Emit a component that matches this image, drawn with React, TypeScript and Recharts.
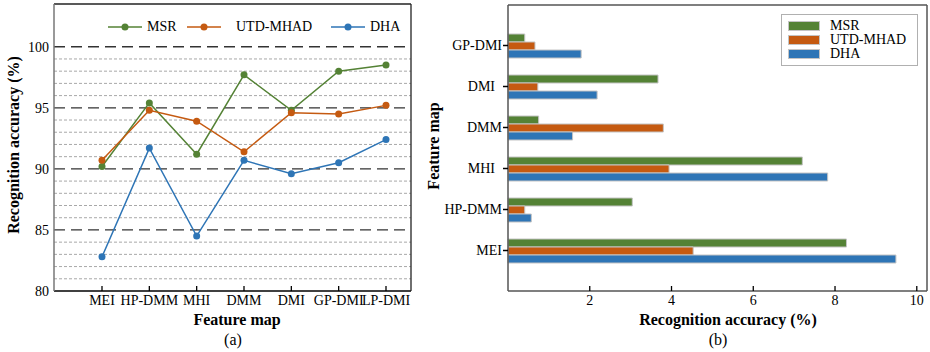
import React from 'react';
import { LineChart, Line, BarChart, Bar, XAxis, YAxis, ReferenceLine } from 'recharts';

// (a) accuracy per feature map
const featureMaps = ['MEI', 'HP-DMM', 'MHI', 'DMM', 'DMI', 'GP-DMI', 'LP-DMI'];
const msrAcc = [90.2, 95.4, 91.2, 97.7, 94.8, 98.0, 98.5];
const utdAcc = [90.7, 94.8, 93.9, 91.4, 94.6, 94.5, 95.2];
const dhaAcc = [82.8, 91.7, 84.5, 90.7, 89.6, 90.5, 92.4];
const accTicks = [80, 85, 90, 95, 100];
const majorGrid = [85, 90, 95, 100];
const minorGrid = [81, 82, 83, 84, 86, 87, 88, 89, 91, 92, 93, 94, 96, 97, 98, 99];

// (b) gap to LP-DMI, top to bottom
const gapMaps = ['GP-DMI', 'DMI', 'DMM', 'MHI', 'HP-DMM', 'MEI'];
const msrGap = [0.41, 3.67, 0.75, 7.2, 3.04, 8.28];
const utdGap = [0.66, 0.73, 3.8, 3.94, 0.41, 4.53];
const dhaGap = [1.79, 2.18, 1.58, 7.82, 0.57, 9.49];
const gapTicks = [2, 4, 6, 8, 10];

const GREEN = '#548235';
const ORANGE = '#C55A11';
const BLUE = '#2E75B6';
const FONT = "'Liberation Serif', 'Times New Roman', serif";

const accData = featureMaps.map((name, i) => ({ name, msr: msrAcc[i], utd: utdAcc[i], dha: dhaAcc[i] }));
const gapData = gapMaps.map((name, i) => ({ name, msr: msrGap[i], utd: utdGap[i], dha: dhaGap[i] }));

const InsideTick = (props: any) => {
  const { x, y, payload } = props;
  return (
    <g>
      <line x1={x} x2={x} y1={y} y2={y - 5} stroke="#000" strokeWidth={1.3} />
      <text x={x} y={y + 14} textAnchor="middle" fontSize={14} fontFamily={FONT} fill="#000">
        {payload.value}
      </text>
    </g>
  );
};

const lineLegendItems = [
  { label: 'MSR', color: GREEN, left: 108 },
  { label: 'UTD-MHAD', color: ORANGE, left: 187 },
  { label: 'DHA', color: BLUE, left: 331 },
];

const LineLegend = () => (
  <div style={{ position: 'absolute', left: 0, top: 18, width: 420, height: 20, fontFamily: FONT, fontSize: 14 }}>
    {lineLegendItems.map((it) => (
      <div key={it.label} style={{ position: 'absolute', left: it.left, top: 0, display: 'flex', alignItems: 'center', height: 18 }}>
        <svg width={34} height={10}>
          <line x1={0} x2={34} y1={5} y2={5} stroke={it.color} strokeWidth={1.6} />
          <circle cx={17} cy={5} r={3.5} fill={it.color} />
        </svg>
        <span style={{ marginLeft: it.label === 'UTD-MHAD' ? 15 : 5 }}>{it.label}</span>
      </div>
    ))}
  </div>
);

const barLegendItems = [
  { label: 'MSR', color: GREEN },
  { label: 'UTD-MHAD', color: ORANGE },
  { label: 'DHA', color: BLUE },
];

const BarLegend = () => (
  <div style={{ position: 'absolute', left: 781, top: 14, width: 137, height: 52, border: '1.5px solid #b0b0b0', fontFamily: FONT, fontSize: 14, boxSizing: 'border-box', paddingTop: 4, background: '#fff' }}>
    {barLegendItems.map((it) => (
      <div key={it.label} style={{ display: 'flex', alignItems: 'center', height: 14, lineHeight: '14px' }}>
        <div style={{ marginLeft: 6, width: 30, height: 8, background: it.color, border: '1px solid #c4c4c4' }} />
        <span style={{ marginLeft: 10 }}>{it.label}</span>
      </div>
    ))}
  </div>
);

const titleStyle: React.CSSProperties = {
  position: 'absolute',
  fontFamily: FONT,
  fontWeight: 'bold',
  fontSize: 16,
  whiteSpace: 'nowrap',
  color: '#000',
};

const capStyle: React.CSSProperties = {
  position: 'absolute',
  fontFamily: FONT,
  fontSize: 16,
  whiteSpace: 'nowrap',
  color: '#000',
  transform: 'translate(-50%, -50%)',
};

const padLabel = (v: string) => (v === 'DMI' || v === 'MHI' ? v + '\u00a0\u00a0' : v);

export default function App() {
  return (
    <div style={{ position: 'absolute', left: 0, top: 0, width: 930, height: 352, background: '#fff' }}>
      <div style={{ position: 'absolute', left: 0, top: 0 }}>
        <LineChart width={420} height={352} data={accData} margin={{ top: 3, right: 8, bottom: 31, left: 14 }}>
          {minorGrid.map((v) => (
            <ReferenceLine key={'m' + v} y={v} stroke="#a8a8a8" strokeDasharray="3 2" strokeWidth={1} />
          ))}
          {majorGrid.map((v) => (
            <ReferenceLine key={'M' + v} y={v} stroke="#333" strokeDasharray="11 6" strokeWidth={1.3} />
          ))}
          <XAxis
            dataKey="name"
            height={30}
            padding={{ left: 48, right: 25 }}
            axisLine={{ stroke: '#000', strokeWidth: 1.5 }}
            tickLine={false}
            tickSize={0}
            tickMargin={0}
            tick={<InsideTick />}
            interval={0}
          />
          <XAxis xAxisId="top" dataKey="name" orientation="top" height={1} tick={false} tickLine={false} axisLine={{ stroke: '#222', strokeWidth: 1.3 }} />
          <YAxis
            domain={[80, 103.5]}
            ticks={accTicks}
            width={40}
            tickLine={false}
            tickSize={0}
            tickMargin={5}
            axisLine={{ stroke: '#777', strokeWidth: 1.5 }}
            tick={{ fontSize: 14, fontFamily: FONT, fill: '#000' }}
          />
          <YAxis yAxisId="right" orientation="right" width={1} domain={[80, 103.5]} tick={false} tickLine={false} axisLine={{ stroke: '#222', strokeWidth: 1.3 }} />
          <Line dataKey="msr" name="MSR" stroke={GREEN} strokeWidth={1.5} dot={{ r: 3.5, fill: GREEN, stroke: GREEN, strokeWidth: 0 }} activeDot={false} isAnimationActive={false} />
          <Line dataKey="utd" name="UTD-MHAD" stroke={ORANGE} strokeWidth={1.5} dot={{ r: 3.5, fill: ORANGE, stroke: ORANGE, strokeWidth: 0 }} activeDot={false} isAnimationActive={false} />
          <Line dataKey="dha" name="DHA" stroke={BLUE} strokeWidth={1.5} dot={{ r: 3.5, fill: BLUE, stroke: BLUE, strokeWidth: 0 }} activeDot={false} isAnimationActive={false} />
        </LineChart>
      </div>
      <LineLegend />

      <div style={{ position: 'absolute', left: 420, top: 0 }}>
        <BarChart width={510} height={352} data={gapData} layout="vertical" margin={{ top: 4, right: 2, bottom: 31, left: 8 }} barGap={0} barSize={8}>
          <XAxis
            type="number"
            domain={[0, 10.25]}
            ticks={gapTicks}
            height={30}
            axisLine={{ stroke: '#555', strokeWidth: 1.5 }}
            tickLine={false}
            tickSize={0}
            tickMargin={0}
            tick={<InsideTick />}
          />
          <XAxis xAxisId="top" type="number" domain={[0, 10.25]} orientation="top" height={1} tick={false} tickLine={false} axisLine={{ stroke: '#555', strokeWidth: 1.5 }} />
          <YAxis
            type="category"
            dataKey="name"
            width={80}
            padding={{ top: 20, bottom: 20 }}
            tickSize={5}
            tickMargin={1}
            tickLine={{ stroke: '#000', strokeWidth: 1.5 }}
            axisLine={{ stroke: '#555', strokeWidth: 1.5 }}
            tick={{ fontSize: 14, fontFamily: FONT, fill: '#000' }}
            tickFormatter={padLabel}
            interval={0}
          />
          <YAxis yAxisId="right" type="category" dataKey="name" orientation="right" width={1} tick={false} tickLine={false} axisLine={{ stroke: '#555', strokeWidth: 1.5 }} />
          <Bar dataKey="msr" name="MSR" fill={GREEN} stroke="#c4c4c4" strokeWidth={1} isAnimationActive={false} />
          <Bar dataKey="utd" name="UTD-MHAD" fill={ORANGE} stroke="#c4c4c4" strokeWidth={1} isAnimationActive={false} />
          <Bar dataKey="dha" name="DHA" fill={BLUE} stroke="#c4c4c4" strokeWidth={1} isAnimationActive={false} />
        </BarChart>
      </div>
      <BarLegend />

      <div style={{ ...titleStyle, left: 14, top: 145, transform: 'translate(-50%, -50%) rotate(-90deg)' }}>Recognition accuracy (%)</div>
      <div style={{ ...titleStyle, left: 237, top: 320, transform: 'translate(-50%, -50%)' }}>Feature map</div>
      <div style={{ ...capStyle, left: 233, top: 340 }}>(a)</div>

      <div style={{ ...titleStyle, left: 434, top: 146, transform: 'translate(-50%, -50%) rotate(-90deg)' }}>Feature map</div>
      <div style={{ ...titleStyle, left: 728, top: 320, transform: 'translate(-50%, -50%)' }}>Recognition accuracy (%)</div>
      <div style={{ ...capStyle, left: 718, top: 340 }}>(b)</div>
    </div>
  );
}
